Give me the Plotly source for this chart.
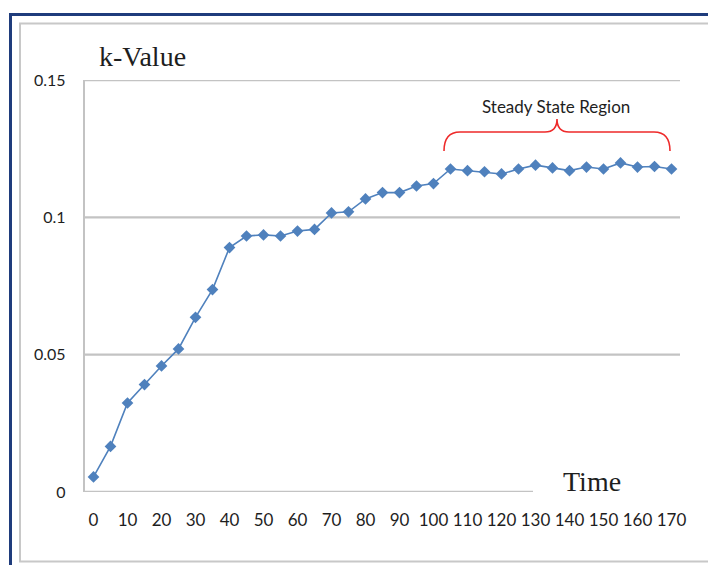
import plotly.graph_objects as go

# ---- data ----
time_values = [0, 5, 10, 15, 20, 25, 30, 35, 40, 45, 50, 55, 60, 65, 70, 75, 80, 85,
               90, 95, 100, 105, 110, 115, 120, 125, 130, 135, 140, 145, 150, 155, 160, 165, 170]
k_values = [0.0055, 0.0166, 0.0324, 0.0391, 0.0459, 0.0521, 0.0636, 0.0737, 0.0890, 0.0932,
            0.0936, 0.0932, 0.0950, 0.0956, 0.1016, 0.1020, 0.1067, 0.1090, 0.1090, 0.1114,
            0.1123, 0.1176, 0.1170, 0.1166, 0.1158, 0.1176, 0.1190, 0.1180, 0.1170, 0.1183,
            0.1176, 0.1198, 0.1183, 0.1185, 0.1176]
x_tick_vals = [0, 10, 20, 30, 40, 50, 60, 70, 80, 90, 100, 110, 120, 130, 140, 150, 160, 170]
x_tick_text = ["0", "10", "20", "30", "40", "50", "60", "70", "80", "90", "100", "110",
               "120", "130", "140", "150", "160", "170"]
y_tick_vals = [0, 0.05, 0.1, 0.15]
y_tick_text = ["0", "0.05", "0.1", "0.15"]

W, H = 708, 565
L, R, T, B = 85, 28, 80, 73

BLUE = "#4F81BD"
GRID = "#c3c3c3"
TXT = "#1e1e1e"

fig = go.Figure()
fig.add_trace(go.Scatter(
    x=time_values, y=k_values, mode="lines+markers",
    line=dict(color=BLUE, width=1.6),
    marker=dict(symbol="diamond", size=9, color=BLUE),
    showlegend=False, hoverinfo="x+y",
))

shapes = []
# outer frame (dark blue) and inner frame (gray)
shapes.append(dict(type="rect", xref="paper", yref="paper",
                   x0=(10.5 - L) / (W - L - R), x1=(W + 20 - L) / (W - L - R),
                   y0=(H - B - (H + 20)) / (H - T - B), y1=(H - B - 14.5) / (H - T - B),
                   line=dict(color="#1f3c7c", width=3), layer="below"))
shapes.append(dict(type="rect", xref="paper", yref="paper",
                   x0=(20 - L) / (W - L - R), x1=(W + 20 - L) / (W - L - R),
                   y0=(H - B - 561.5) / (H - T - B), y1=(H - B - 23.5) / (H - T - B),
                   line=dict(color="#c8c8c8", width=2), layer="below"))
# gridlines from the tick list; baseline stops short of the "Time" label
for v in y_tick_vals:
    x1 = (533 - L) / (W - L - R) if v == 0 else 1
    shapes.append(dict(type="line", xref="paper", yref="y", x0=0, x1=x1, y0=v, y1=v,
                       line=dict(color=GRID, width=2.4), layer="below"))

# curly brace over the steady state region (data coords)
def px2x(px):
    return (px - (L + (2.5 / 175) * (W - L - R))) / ((W - L - R) / 175)

def py2y(py):
    return (H - B - py) / (H - T - B) * 0.15

pts = [(444, 151), (444, 132), (460, 132), (545, 132), (557, 132), (557, 119),
       (557, 132), (569, 132), (654, 132), (670, 132), (670, 151)]
c = [(px2x(a), py2y(b)) for a, b in pts]
path = ("M {0[0]},{0[1]} Q {1[0]},{1[1]} {2[0]},{2[1]} L {3[0]},{3[1]} "
        "Q {4[0]},{4[1]} {5[0]},{5[1]} Q {6[0]},{6[1]} {7[0]},{7[1]} "
        "L {8[0]},{8[1]} Q {9[0]},{9[1]} {10[0]},{10[1]}").format(*c)
shapes.append(dict(type="path", xref="x", yref="y", path=path,
                   line=dict(color="#ee2a2a", width=1.6)))

annotations = [
    dict(text="k-Value", xref="paper", yref="paper",
         x=(97 - L) / (W - L - R), y=(H - B - 56) / (H - T - B),
         xanchor="left", yanchor="middle", showarrow=False,
         font=dict(family="Liberation Serif", size=28, color=TXT)),
    dict(text="Time", xref="paper", yref="paper",
         x=(592 - L) / (W - L - R), y=(H - B - 481) / (H - T - B),
         xanchor="center", yanchor="middle", showarrow=False,
         font=dict(family="Liberation Serif", size=28, color=TXT)),
    dict(text="Steady State Region", xref="paper", yref="paper",
         x=(556 - L) / (W - L - R), y=(H - B - 107) / (H - T - B),
         xanchor="center", yanchor="middle", showarrow=False,
         font=dict(family="Lato", size=17, color=TXT)),
]

fig.update_layout(
    width=W, height=H,
    margin=dict(l=L, r=R, t=T, b=B, pad=0),
    paper_bgcolor="white", plot_bgcolor="white",
    shapes=shapes, annotations=annotations,
    font=dict(family="Lato", size=16, color=TXT),
    xaxis=dict(range=[-2.5, 172.5], tickvals=x_tick_vals, ticktext=x_tick_text,
               tickangle=0, showgrid=False, zeroline=False, showline=False,
               ticks="", ticklabelstandoff=16, tickfont=dict(size=17, family="Lato")),
    yaxis=dict(range=[0, 0.15], tickvals=y_tick_vals, ticktext=y_tick_text,
               showgrid=False, zeroline=False, showline=True, linecolor=GRID, linewidth=2.4,
               ticks="", ticklabelstandoff=14, tickfont=dict(size=16, family="Lato")),
)

fig.write_html("out.html", config={"displayModeBar": False},
               post_script="document.body.style.margin='0';")
